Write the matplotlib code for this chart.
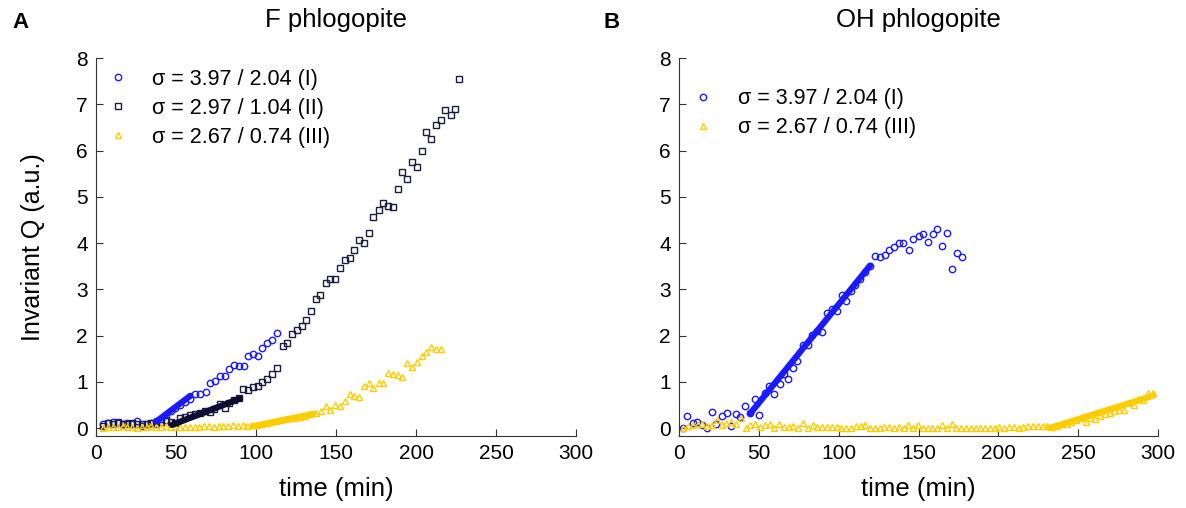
import numpy as np
import matplotlib.pyplot as plt

plt.rcParams['font.family'] = ['Liberation Sans', 'DejaVu Sans']

# ---- F phlogopite (panel A) ----
F_I_t = [4.6, 7.6, 10.6, 13.6, 16.6, 19.6, 22.6, 25.6, 28.6, 31.6, 34.6, 37.6,
         40.6, 43.6, 46.6, 49.6, 52.6, 55.6, 58.6, 62, 65, 68.5, 71, 74.4, 77.5,
         80.6, 83.3, 86, 89.6, 92.5, 95, 98, 101, 104, 107, 110, 113]
F_I_q = [0.08, 0.12, 0.14, 0.11, 0.09, 0.12, 0.08, 0.15, 0.05, 0.10, 0.11, 0.16,
         0.20, 0.28, 0.38, 0.43, 0.50, 0.57, 0.64, 0.73, 0.73, 0.78, 0.98, 1.02, 1.12,
         1.12, 1.27, 1.36, 1.35, 1.35, 1.56, 1.61, 1.56, 1.74, 1.84, 1.90, 2.05]

F_II_t = [4.6, 7.6, 10.6, 13.6, 16.6, 19.6, 22.6, 25.6, 28.6, 31.6, 34.6, 37.6,
          40.6, 43.6, 46.6, 49.6, 52.6, 55.6, 58.7, 61.9, 65, 68, 71, 73.5, 77.5,
          80.6, 83.3, 86, 89.6, 92, 95, 98, 101, 104, 107, 110, 113, 116.7, 119.2,
          122.3, 125.4, 128.5, 131.3, 134.4, 137.3, 140.2, 143.5, 146.5, 149.6,
          152.5, 155.4, 158.5, 161.5, 164.4, 167.5, 170.4, 173.3, 176.7, 179.6,
          182.5, 185.6, 188.6, 191.4, 194.6, 197.5, 200.4, 203.6, 206.4, 209.4,
          212.5, 215.4, 218.3, 221.7, 224.6, 227.1]
F_II_q = [0.05, 0.12, 0.10, 0.13, 0.08, 0.10, 0.12, 0.08, 0.10, 0.09, 0.12, 0.10,
          0.14, 0.18, 0.13, 0.12, 0.21, 0.24, 0.28, 0.31, 0.33, 0.38, 0.34, 0.41, 0.53,
          0.44, 0.55, 0.60, 0.65, 0.84, 0.82, 0.88, 0.90, 1.00, 1.07, 1.17, 1.31, 1.77, 1.83,
          2.03, 2.13, 2.21, 2.34, 2.53, 2.80, 2.87, 3.13, 3.22, 3.22,
          3.46, 3.63, 3.68, 3.85, 4.06, 4.01, 4.21, 4.57, 4.71, 4.87,
          4.81, 4.77, 5.16, 5.54, 5.38, 5.76, 5.64, 6.00, 6.41, 6.24,
          6.55, 6.66, 6.88, 6.76, 6.90, 7.55]

F_III_t = [4.6, 7.6, 10.6, 13.6, 16.6, 19.6, 22.6, 25.6, 28.6, 31.6, 34.6, 37.6,
           40.6, 43.6, 46.6, 49.6, 52.6, 55.6, 58.6, 61.6, 64.6, 67.6, 70.6, 73.6,
           76.6, 79.6, 82.6, 85.6, 88.6, 91.6, 94.6, 97.6, 100.6, 103.6, 106.6,
           109.6, 112.6, 115.6, 118.6, 121.6, 124.6, 127.6, 130.6, 133.6, 137.5,
           140.4, 143.5, 146.5, 149.6, 152.5, 155.4, 158.5, 161.5, 164.4, 167.5,
           170.4, 173.3, 176.7, 179.6, 182.5, 185.6, 188.6, 191.4, 194.6, 197.5,
           200.4, 203.6, 206.4, 209.4, 212.5, 215.4]
F_III_q = [0.00, 0.02, 0.03, 0.02, 0.04, 0.02, 0.03, 0.01, 0.03, 0.02, 0.05, 0.03,
           0.02, 0.04, 0.03, 0.02, 0.02, 0.02, 0.03, 0.02, 0.03, 0.04, 0.05, 0.03,
           0.04, 0.05, 0.04, 0.06, 0.05, 0.06, 0.05, 0.07, 0.07, 0.09, 0.12,
           0.13, 0.15, 0.17, 0.19, 0.21, 0.22, 0.25, 0.27, 0.31, 0.32,
           0.37, 0.48, 0.40, 0.51, 0.48, 0.58, 0.73, 0.69, 0.68, 0.92,
           0.98, 0.86, 0.97, 0.98, 1.20, 1.16, 1.14, 1.11, 1.41, 1.33,
           1.44, 1.56, 1.65, 1.76, 1.70, 1.72]

# linear fits (start, end)
F_fit_I = ([38, 59], [0.15, 0.70])
F_fit_II = ([47.5, 90], [0.07, 0.64])
F_fit_III = ([98, 136], [0.04, 0.31])

# ---- OH phlogopite (panel B) ----
OH_I_t = [2.7, 5.2, 8.6, 11.5, 14.4, 17.7, 20.5, 23.2, 26.7, 29.9, 32.4, 35.7,
          38.4, 41.5, 44.7, 47.6, 50.3, 53.6, 56.5, 59.5, 63, 65.7, 68.3, 71.2,
          74.2, 77.5, 80.5, 83.5, 86.6, 89.8, 92.5, 95.6, 98.7, 101.9, 104.4,
          107.5, 110.5, 113.5, 116.5, 119.6, 122.5, 125.9, 128.8, 131.7, 134.6,
          137.6, 140.5, 143.8, 146.7, 150.1, 153, 155.7, 158.9, 161.8, 164.7,
          168, 170.9, 173.8, 177.4]
OH_I_q = [0.0, 0.26, 0.12, 0.14, 0.07, 0.0, 0.35, 0.09, 0.26, 0.33, 0.04, 0.30,
          0.25, 0.48, 0.32, 0.62, 0.28, 0.75, 0.91, 0.74, 0.95, 1.18, 1.07, 1.30,
          1.45, 1.79, 1.80, 2.02, 2.10, 2.07, 2.48, 2.58, 2.54, 2.87, 2.75,
          2.96, 3.10, 3.22, 3.38, 3.51, 3.73, 3.69, 3.75, 3.86, 3.91,
          4.01, 4.01, 3.84, 4.08, 4.15, 4.19, 4.03, 4.19, 4.30, 3.94,
          4.22, 3.44, 3.78, 3.70]

OH_III_t = [2.7, 5.7, 8.7, 11.7, 14.7, 17.7, 20.7, 23.7, 26.7, 29.7, 32.7, 35.7,
            38.7, 41.7, 44.7, 47.7, 50.7, 53.7, 56.7, 59.7, 62.7, 65.7, 68.7, 71.7,
            74.7, 77.7, 80.7, 83.7, 86.7, 89.7, 92.7, 95.7, 98.7, 101.7, 104.7,
            107.7, 110.7, 113.7, 116.7, 119.7, 122.7, 125.7, 128.7, 131.7, 134.7,
            137.7, 140.7, 143.7, 146.7, 149.7, 152.7, 155.7, 158.7, 161.7, 164.7,
            167.7, 170.7, 173.7, 176.7, 179.7, 182.7, 185.7, 188.7, 191.7, 194.7,
            197.7, 200.7, 203.7, 206.7, 209.7, 212.7, 215.7, 218.7, 221.7, 224.7,
            227.7, 230.7, 233.7, 236.7, 239.7, 242.7, 245.7, 248.7, 251.7, 254.7,
            257.7, 260.7, 263.7, 266.7, 269.7, 272.7, 275.7, 278.7, 281.7, 284.7,
            287.7, 290.7, 293.7, 296.7]
OH_III_q = [0.0, 0.05, 0.06, 0.08, 0.10, 0.04, 0.06, 0.17, 0.06, 0.12, 0.14, 0.10,
            0.22, 0.0, 0.06, 0.08, 0.02, 0.06, 0.08, 0.0, 0.09, 0.02, 0.02, 0.04,
            0.0, 0.12, 0.0, 0.06, 0.03, 0.02, 0.02, 0.02, 0.02, 0.0, 0.0,
            0.0, 0.04, 0.04, 0.06, 0.0, 0.01, 0.0, 0.02, 0.02, 0.0,
            0.02, 0.0, 0.06, 0.0, 0.06, 0.0, 0.0, 0.0, 0.0, 0.06,
            0.0, 0.10, 0.0, 0.0, 0.0, 0.0, 0.0, 0.0, 0.0, 0.0,
            0.0, 0.02, 0.0, 0.02, 0.02, 0.0, 0.02, 0.04, 0.04, 0.04,
            0.04, 0.04, 0.02, 0.04, 0.08, 0.10, 0.14, 0.17, 0.22, 0.14,
            0.22, 0.19, 0.27, 0.30, 0.33, 0.37, 0.40, 0.40, 0.55, 0.50,
            0.62, 0.60, 0.76, 0.75]

OH_fit_I = ([44.7, 119.6], [0.32, 3.51])
OH_fit_III = ([232, 297], [0.0, 0.70])

labels = {'I': 'σ = 3.97 / 2.04 (I)', 'II': 'σ = 2.97 / 1.04 (II)',
          'III': 'σ = 2.67 / 0.74 (III)'}

BLUE = '#1a1aff'
NAVY = '#1c1c40'
NAVY_FIT = '#0c0c33'
GOLD = '#ffcc00'

W, H = 1186, 508
fig = plt.figure(figsize=(W / 100, H / 100), dpi=100)
axA = fig.add_axes([96 / W, 1 - 436 / H, 480 / W, 378 / H])
axB = fig.add_axes([679 / W, 1 - 436 / H, 479 / W, 378 / H])

mk = dict(linestyle='none', fillstyle='none', markersize=4.6, markeredgewidth=1.0)


def style(ax):
    ax.set_xlim(0, 300)
    ax.set_ylim(-0.17, 8)
    ax.set_xticks([0, 50, 100, 150, 200, 250, 300])
    ax.set_yticks(range(0, 9))
    for s in ['top', 'right']:
        ax.spines[s].set_visible(False)
    for s in ['left', 'bottom']:
        ax.spines[s].set_color('#333333')
    ax.tick_params(direction='in', length=5, width=0.8, colors='#333333',
                   labelcolor='black', labelsize=15, pad=6)
    ax.set_xlabel('time (min)', fontsize=18.5, labelpad=10)


# panel A
hI, = axA.plot(F_I_t, F_I_q, 'o', color=BLUE, label=labels['I'], **mk)
hII, = axA.plot(F_II_t, F_II_q, 's', color=NAVY, label=labels['II'], **mk)
hIII, = axA.plot(F_III_t, F_III_q, '^', color=GOLD, label=labels['III'], **mk)
axA.plot(*F_fit_I, color=BLUE, lw=4.5, solid_capstyle='round')
axA.plot(*F_fit_II, color=NAVY_FIT, lw=4.5, solid_capstyle='round')
axA.plot(*F_fit_III, color=GOLD, lw=4.5, solid_capstyle='round')
style(axA)
axA.set_ylabel('Invariant Q (a.u.)', fontsize=18, labelpad=22)
axA.set_title('F phlogopite', fontsize=18.5, pad=22)
axA.legend(handles=[hI, hII, hIII], loc='upper left', bbox_to_anchor=(0.0235, 0.972),
           frameon=False, fontsize=15.5, borderpad=0, borderaxespad=0,
           handlelength=1, handletextpad=1.1, labelspacing=0.38)

# panel B
gI, = axB.plot(OH_I_t, OH_I_q, 'o', color=BLUE, label=labels['I'], **mk)
gIII, = axB.plot(OH_III_t, OH_III_q, '^', color=GOLD, label=labels['III'], **mk)
axB.plot(*OH_fit_I, color=BLUE, lw=4.5, solid_capstyle='round')
axB.plot(*OH_fit_III, color=GOLD, lw=4.5, solid_capstyle='round')
style(axB)
axB.set_title('OH phlogopite', fontsize=18.5, pad=22)
axB.legend(handles=[gI, gIII], loc='upper left', bbox_to_anchor=(0.028, 0.92),
           frameon=False, fontsize=15.5, borderpad=0, borderaxespad=0,
           handlelength=1, handletextpad=1.1, labelspacing=0.38)

fig.text(12 / W, 1 - 22 / H, 'A', fontsize=16, fontweight='bold', va='center')
fig.text(604 / W, 1 - 22 / H, 'B', fontsize=16, fontweight='bold', va='center')

fig.savefig('out.png', dpi=100)
